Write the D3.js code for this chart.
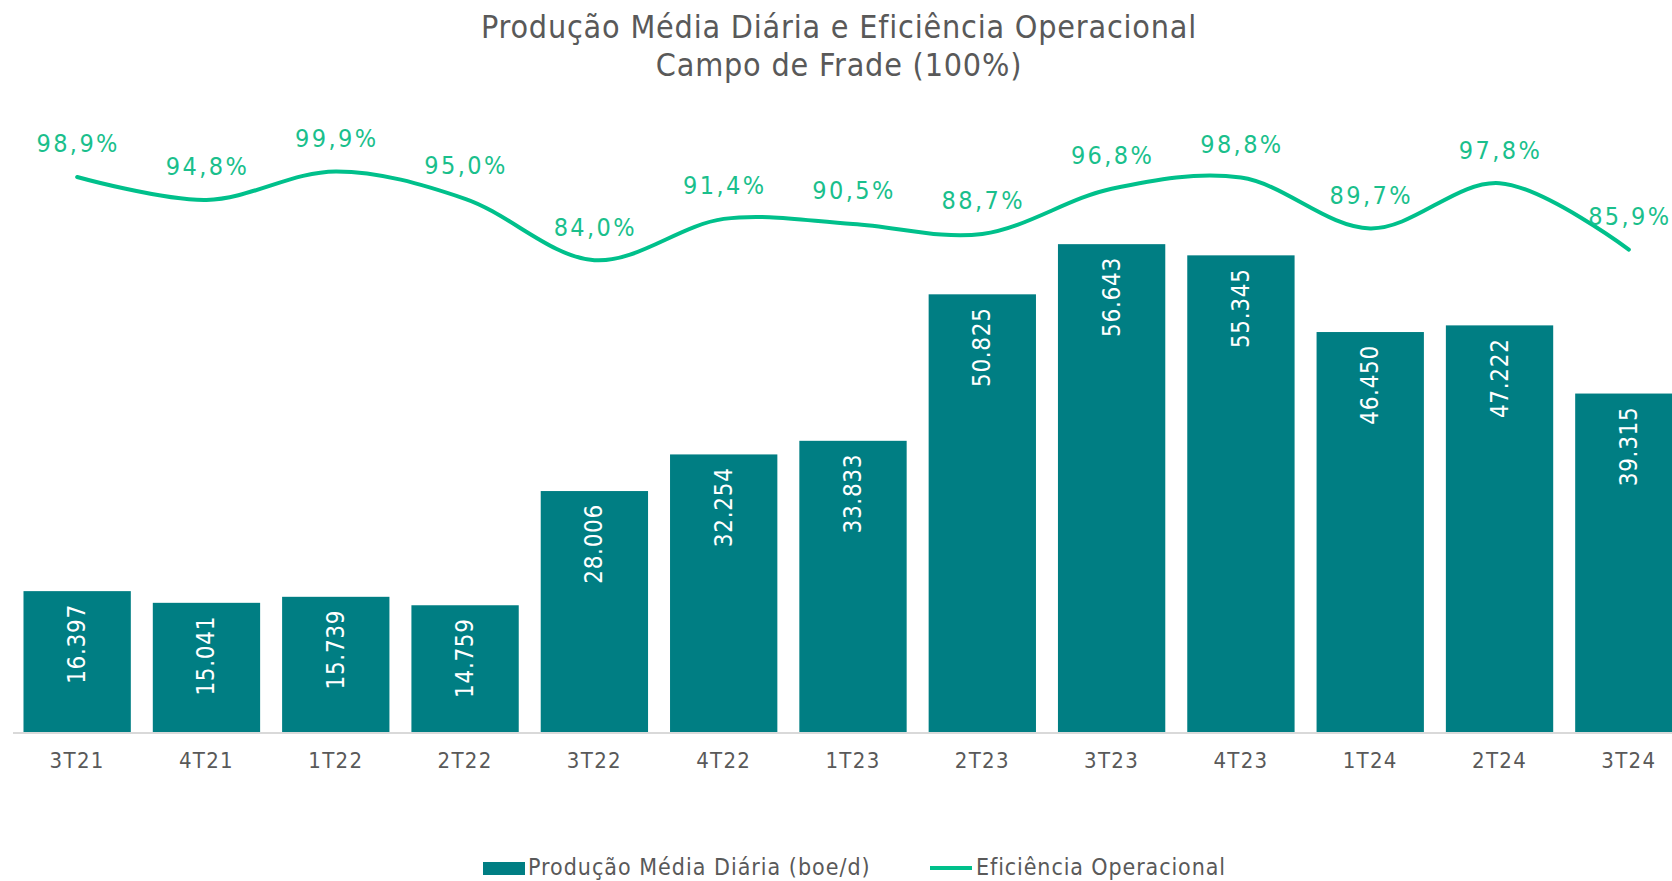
<!DOCTYPE html>
<html>
<head>
<meta charset="utf-8">
<script src="https://cdn.jsdelivr.net/npm/d3@7"></script>
<style>
  body { margin: 0; background: #fff; }
  svg text { font-family: "DejaVu Sans Condensed", "DejaVu Sans", sans-serif; }
</style>
</head>
<body>
<div id="chart"></div>
<script>
// data
var quarters = ["3T21", "4T21", "1T22", "2T22", "3T22", "4T22", "1T23", "2T23", "3T23", "4T23", "1T24", "2T24", "3T24"];
var production = [16397, 15041, 15739, 14759, 28006, 32254, 33833, 50825, 56643, 55345, 46450, 47222, 39315];
var efficiency = [98.9, 94.8, 99.9, 95.0, 84.0, 91.4, 90.5, 88.7, 96.8, 98.8, 89.7, 97.8, 85.9];
var titleLines = ["Produção Média Diária e Eficiência Operacional", "Campo de Frade (100%)"];
var legendNames = ["Produção Média Diária (boe/d)", "Eficiência Operacional"];

var width = 1672, height = 881;
var barColor = "#007e83", lineColor = "#00c08b", textGray = "#595959";

var svg = d3.select("#chart").append("svg")
  .attr("width", width)
  .attr("height", height);

// title
svg.append("g").selectAll("text")
  .data(titleLines)
  .enter().append("text")
    .attr("x", 839)
    .attr("y", function(d, i) { return i === 0 ? 27 : 65; })
    .attr("text-anchor", "middle")
    .attr("dominant-baseline", "central")
    .attr("fill", textGray)
    .style("font-size", "32px")
    .style("letter-spacing", "0.8px")
    .text(function(d) { return d; });

// scales
var x = d3.scaleBand()
  .domain(quarters)
  .range([12.5, 1693.5])
  .paddingInner(0.17)
  .paddingOuter(0.085);

var y = d3.scaleLinear().domain([0, 70000]).range([732.5, 129]);
var y2 = d3.scaleLinear().domain([70, 110]).range([338.4, 115]);

// bars
svg.append("g").selectAll("rect")
  .data(production)
  .enter().append("rect")
    .attr("x", function(d, i) { return x(quarters[i]); })
    .attr("y", function(d) { return y(d); })
    .attr("width", x.bandwidth())
    .attr("height", function(d) { return y(0) - y(d); })
    .attr("fill", barColor);

// bar labels (rotated, inside the top)
var fmt = d3.format(",");
svg.append("g").selectAll("text")
  .data(production)
  .enter().append("text")
    .attr("transform", function(d, i) {
      return "translate(" + (x(quarters[i]) + x.bandwidth() / 2) + "," + (y(d) + 13) + ") rotate(-90)";
    })
    .attr("text-anchor", "end")
    .attr("dominant-baseline", "central")
    .attr("fill", "#fff")
    .style("font-size", "24px")
    .style("letter-spacing", "0.7px")
    .text(function(d) { return fmt(d).replace(/,/g, "."); });

// x axis
var xAxis = svg.append("g")
  .attr("transform", "translate(0," + y(0) + ")")
  .call(d3.axisBottom(x).tickSize(0).tickPadding(20));
xAxis.select(".domain").attr("stroke", "#d9d9d9").attr("stroke-width", 2);
xAxis.selectAll("text")
  .attr("fill", textGray)
  .style("font-size", "22px")
  .style("letter-spacing", "1.3px")
  .style("font-family", "'DejaVu Sans Condensed', sans-serif");

// efficiency line
var line = d3.line()
  .x(function(d, i) { return x(quarters[i]) + x.bandwidth() / 2; })
  .y(function(d) { return y2(d); })
  .curve(d3.curveCatmullRom.alpha(0.5));

svg.append("path")
  .datum(efficiency)
  .attr("d", line)
  .attr("fill", "none")
  .attr("stroke", lineColor)
  .attr("stroke-width", 4)
  .attr("stroke-linecap", "round");

svg.append("g").selectAll("text")
  .data(efficiency)
  .enter().append("text")
    .attr("x", function(d, i) { return x(quarters[i]) + x.bandwidth() / 2 + 1; })
    .attr("y", function(d) { return y2(d) - 33; })
    .attr("text-anchor", "middle")
    .attr("dominant-baseline", "central")
    .attr("fill", "#1abf8c")
    .style("font-size", "25px")
    .style("letter-spacing", "2.4px")
    .text(function(d) { return d.toFixed(1).replace(".", ",") + "%"; });

// legend
var legend = svg.append("g");
legend.append("rect")
  .attr("x", 483).attr("y", 862)
  .attr("width", 42).attr("height", 13)
  .attr("fill", barColor);
legend.append("text")
  .attr("x", 528).attr("y", 867)
  .attr("dominant-baseline", "central")
  .attr("fill", textGray)
  .style("font-size", "23px")
  .style("letter-spacing", "1px")
  .text(legendNames[0]);
legend.append("line")
  .attr("x1", 930).attr("x2", 972)
  .attr("y1", 868).attr("y2", 868)
  .attr("stroke", lineColor)
  .attr("stroke-width", 4);
legend.append("text")
  .attr("x", 976).attr("y", 867)
  .attr("dominant-baseline", "central")
  .attr("fill", textGray)
  .style("font-size", "23px")
  .style("letter-spacing", "0.9px")
  .text(legendNames[1]);
</script>
</body>
</html>
